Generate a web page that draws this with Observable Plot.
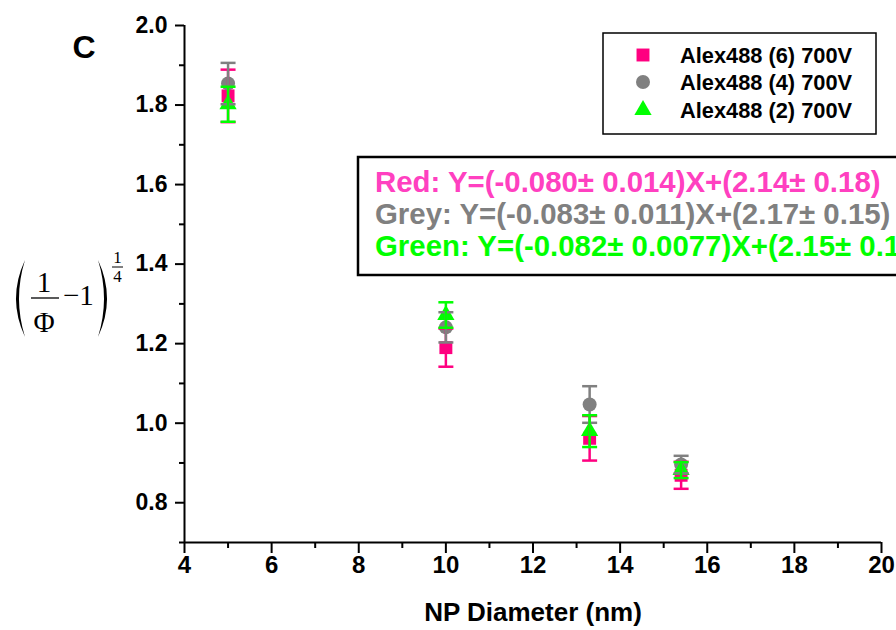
<!DOCTYPE html>
<html>
<head>
<meta charset="utf-8">
<script src="https://cdn.jsdelivr.net/npm/d3@7"></script>
<script src="https://cdn.jsdelivr.net/npm/@observablehq/plot@0.6"></script>
<style>
  html, body { margin: 0; padding: 0; background: #fff; overflow: hidden; }
  #chart { width: 896px; height: 630px; }
</style>
</head>
<body>
<div id="chart"></div>
<script>
// ---------- data ----------
const diameters = [5, 10, 13.3, 15.4];
const seriesNames = ["Alex488 (6) 700V", "Alex488 (4) 700V", "Alex488 (2) 700V"];
const redValues   = [1.823, 1.190, 0.962, 0.869];
const redErrors   = [0.066, 0.048, 0.056, 0.034];
const greyValues  = [1.854, 1.241, 1.047, 0.896];
const greyErrors  = [0.052, 0.038, 0.046, 0.022];
const greenValues = [1.802, 1.272, 0.980, 0.882];
const greenErrors = [0.044, 0.032, 0.040, 0.020];
const fitLabels = [
  "Red: Y=(-0.080\u00b1 0.014)X+(2.14\u00b1 0.18)",
  "Grey: Y=(-0.083\u00b1 0.011)X+(2.17\u00b1 0.15)",
  "Green: Y=(-0.082\u00b1 0.0077)X+(2.15\u00b1 0.1"
];
const xMajor = [4, 6, 8, 10, 12, 14, 16, 18, 20];
const xMinor = [5, 7, 9, 11, 13, 15, 17, 19];
const yMajor = [0.8, 1.0, 1.2, 1.4, 1.6, 1.8, 2.0];
const yMinor = [0.7, 0.9, 1.1, 1.3, 1.5, 1.7, 1.9];

// ---------- styles ----------
const markerColors = ["#FF0080", "#808080", "#00FF00"];
const textColors = ["#FF40C0", "#808080", "#00FF00"];
const symbols = ["square", "circle", "triangle"];
const radii = [7.3, 7, 6.4];

const series = [
  {name: seriesNames[0], values: redValues, errors: redErrors},
  {name: seriesNames[1], values: greyValues, errors: greyErrors},
  {name: seriesNames[2], values: greenValues, errors: greenErrors}
].map((s, i) => ({
  ...s, i,
  rows: diameters.map((x, j) => ({x, y: s.values[j], e: s.errors[j]}))
}));

const cap = {draw(ctx) { ctx.moveTo(-7.5, 0); ctx.lineTo(7.5, 0); }};

const marks = [];
// markers
for (const s of series) {
  marks.push(Plot.dot(s.rows, {x: "x", y: "y", symbol: symbols[s.i], r: radii[s.i], fill: markerColors[s.i], stroke: "none"}));
}
// error bars
for (const s of series) {
  marks.push(Plot.ruleX(s.rows, {x: "x", y1: d => d.y - d.e, y2: d => d.y + d.e, stroke: markerColors[s.i], strokeWidth: 2.5}));
  marks.push(Plot.dot(s.rows, {x: "x", y: d => d.y + d.e, symbol: cap, fill: "none", stroke: markerColors[s.i], strokeWidth: 2.5}));
  marks.push(Plot.dot(s.rows, {x: "x", y: d => d.y - d.e, symbol: cap, fill: "none", stroke: markerColors[s.i], strokeWidth: 2.5}));
}

const svg = Plot.plot({
  width: 896,
  height: 630,
  marginLeft: 184,
  marginRight: 15,
  marginTop: 25,
  marginBottom: 88,
  style: {fontFamily: "'Liberation Sans', Arial, sans-serif", fontWeight: "bold", color: "#000", background: "#fff", overflow: "hidden"},
  x: {domain: [4, 20]},
  y: {domain: [0.7, 2.0]},
  marks: [
    Plot.axisX({ticks: xMajor, tickSize: 11, tickPadding: 2, tickFormat: d => String(d), fontSize: 24, strokeWidth: 2, label: null}),
    Plot.axisX({ticks: xMinor, tickSize: 6, tickFormat: () => "", strokeWidth: 2, label: null}),
    Plot.axisY({ticks: yMajor, tickSize: 9, tickPadding: 8, tickFormat: d3.format(".1f"), fontSize: 23, strokeWidth: 2, label: null}),
    Plot.axisY({ticks: yMinor, tickSize: 5, tickFormat: () => "", strokeWidth: 2, label: null}),
    Plot.ruleX([4], {y1: 0.7, y2: 2.0, strokeWidth: 2}),
    Plot.ruleY([0.7], {x1: 4, x2: 20, strokeWidth: 2}),
    ...marks
  ]
});
document.getElementById("chart").appendChild(svg);

const s = d3.select(svg);

// panel letter
s.append("text").attr("x", 84).attr("y", 58).attr("text-anchor", "middle")
  .attr("font-size", 32).attr("font-weight", "bold").attr("fill", "#000").text("C");

// x axis title
s.append("text").attr("x", 533).attr("y", 621).attr("text-anchor", "middle")
  .attr("font-size", 26).attr("font-weight", "bold").attr("fill", "#000").text("NP Diameter (nm)");

// y axis label: (1/Φ − 1)^(1/4)
const yl = s.append("g").attr("font-family", "'Liberation Serif', 'Times New Roman', serif")
  .attr("font-weight", "normal").attr("fill", "#000");
yl.append("path").attr("d", "M25,260 Q7,298.5 25,337 Q13,298.5 25,260 Z");
yl.append("path").attr("d", "M98,260 Q116,298.5 98,337 Q110,298.5 98,260 Z");
yl.append("text").attr("x", 44).attr("y", 292).attr("text-anchor", "middle").attr("font-size", 29).text("1");
yl.append("line").attr("x1", 31).attr("x2", 59).attr("y1", 298).attr("y2", 298).attr("stroke", "#000").attr("stroke-width", 1.3);
yl.append("text").attr("x", 44).attr("y", 332).attr("text-anchor", "middle").attr("font-size", 29).text("\u03a6");
yl.append("text").attr("x", 63).attr("y", 305).attr("text-anchor", "start").attr("font-size", 29).text("\u22121");
yl.append("text").attr("x", 117.5).attr("y", 263).attr("text-anchor", "middle").attr("font-size", 17).text("1");
yl.append("line").attr("x1", 112).attr("x2", 123).attr("y1", 267).attr("y2", 267).attr("stroke", "#000").attr("stroke-width", 1);
yl.append("text").attr("x", 117.5).attr("y", 282).attr("text-anchor", "middle").attr("font-size", 17).text("4");

// legend
const lg = s.append("g");
lg.append("rect").attr("x", 603).attr("y", 33).attr("width", 273).attr("height", 101)
  .attr("fill", "#fff").attr("stroke", "#000").attr("stroke-width", 1.5);
const rowY = [55, 82, 110];
series.forEach((sr, i) => {
  const sym = d3.symbol().type([d3.symbolSquare, d3.symbolCircle, d3.symbolTriangle][i]).size(Math.PI * radii[i] * radii[i]);
  lg.append("path").attr("d", sym()).attr("transform", `translate(643,${rowY[i]})`).attr("fill", markerColors[i]);
  lg.append("text").attr("x", 680).attr("y", rowY[i]).attr("dy", "0.36em").attr("text-anchor", "start")
    .attr("font-size", 21.8).attr("font-weight", "bold").attr("fill", "#000").text(sr.name);
});

// fit equations box
const eq = s.append("g");
eq.append("rect").attr("x", 358).attr("y", 157).attr("width", 600).attr("height", 118)
  .attr("fill", "#fff").attr("stroke", "#000").attr("stroke-width", 2.5);
const eqY = [192, 224, 256];
fitLabels.forEach((t, i) => {
  eq.append("text").attr("x", 375).attr("y", eqY[i]).attr("text-anchor", "start").attr("font-size", 29.4)
    .attr("font-weight", "bold").attr("fill", textColors[i]).text(t);
});
</script>
</body>
</html>
